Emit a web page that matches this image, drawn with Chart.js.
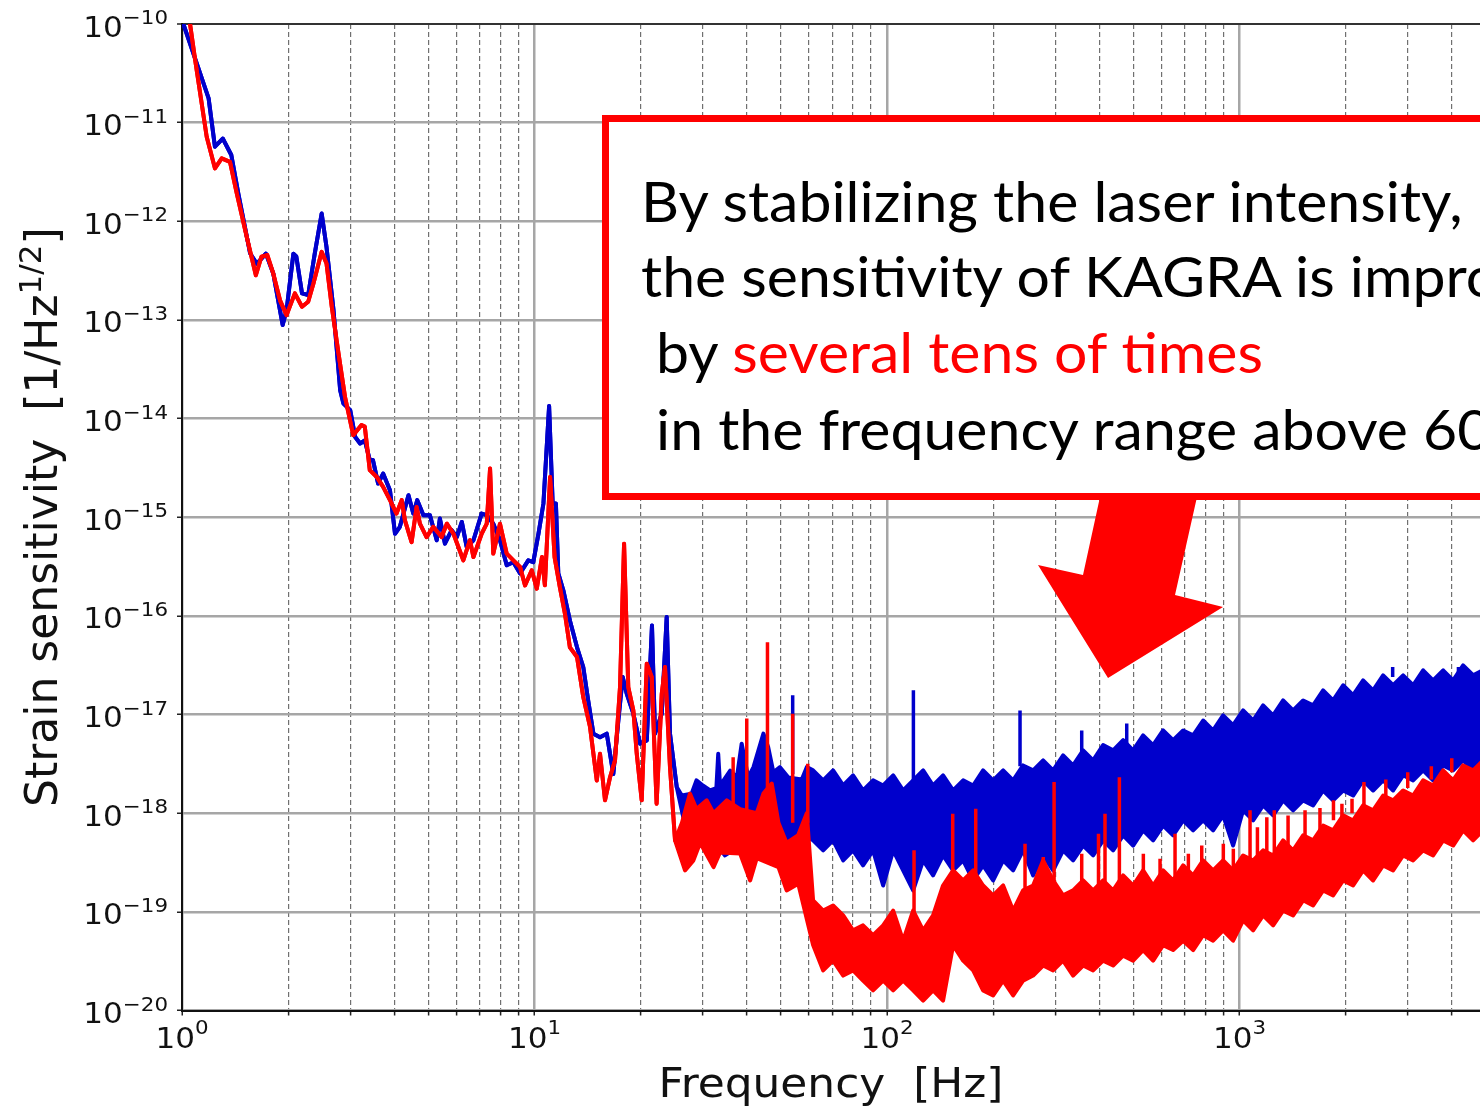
<!DOCTYPE html>
<html>
<head>
<meta charset="utf-8">
<script src="https://cdn.jsdelivr.net/npm/chart.js@4.4.0/dist/chart.umd.min.js"></script>
<style>
  html, body { margin: 0; padding: 0; background: #fff; overflow: hidden; }
  #wrap { position: relative; width: 1480px; height: 1107px; overflow: hidden; }
  #c { position: absolute; left: 0; top: 0; }
  #overlay { position: absolute; left: 0; top: 0; }
</style>
</head>
<body>
<div id="wrap">
  <canvas id="c" width="1480" height="1107"></canvas>
  <svg id="overlay" width="1480" height="1107">
    <rect x="605.5" y="118.5" width="1000" height="378" fill="#fff" stroke="#ff0000" stroke-width="7"/>
    <g font-family="Lato" font-size="56" fill="#000">
      <text transform="translate(641,222) scale(1.053,1)">By stabilizing the laser intensity,</text>
      <text transform="translate(641,297) scale(1.053,1)">the sensitivity of KAGRA is improved</text>
      <text transform="translate(656,373) scale(1.053,1)">by <tspan fill="#ff0000">several tens of times</tspan></text>
      <text transform="translate(656,450) scale(1.053,1)">in the frequency range above 60 Hz</text>
    </g>
    <polygon points="1100,497 1197,497 1175,595 1223,607 1108,678 1038,565 1083,575" fill="#ff0000"/>
  </svg>
</div>
<script>
// axis decades and grid positions
const xDecadeExps = [0, 1, 2, 3];
const yDecadeExps = [-10, -11, -12, -13, -14, -15, -16, -17, -18, -19, -20];
const freqGridTicks = [1, 2, 3, 4, 5, 6, 7, 8, 9, 10, 20, 30, 40, 50, 60, 70, 80, 90,
  100, 200, 300, 400, 500, 600, 700, 800, 900, 1000, 2000, 3000, 4000];
const strainGridTicks = [1e-20, 1e-19, 1e-18, 1e-17, 1e-16, 1e-15, 1e-14, 1e-13, 1e-12, 1e-11, 1e-10];

// blue = before stabilization, red = after. Below ~25 Hz each is a single trace.
const blueLowFreq = [1.0, 1.19, 1.24, 1.305, 1.38, 1.445, 1.56, 1.63, 1.73, 1.815, 1.93, 1.98, 2.07, 2.11,
  2.19, 2.28, 2.38, 2.49, 2.57, 2.69, 2.81, 2.87, 3.0, 3.1, 3.2, 3.3, 3.41, 3.48, 3.6, 3.72, 3.89,
  4.02, 4.15, 4.39, 4.53, 4.65, 4.84, 5.05, 5.28, 5.39, 5.57, 5.82, 6.02, 6.22, 6.42, 6.71, 7.08,
  7.32, 7.64, 7.98, 8.34, 8.71, 9.1, 9.6, 9.92, 10.26, 10.6, 11.0, 11.26, 11.5, 11.68, 12.07, 12.6,
  13.2, 13.75, 14.2, 14.69, 15.34, 16.03, 16.73, 17.29, 17.79, 18.26, 19.07, 19.92, 20.82, 21.54,
  21.97, 22.96, 23.71, 24.23, 25.32];
const blueLowStrain = [1.1e-10, 1.76e-11, 5.7e-12, 6.9e-12, 4.7e-12, 1.9e-12, 4.75e-13, 3.7e-13, 4.7e-13,
  2.96e-13, 8.9e-14, 1.26e-13, 4.7e-13, 4.4e-13, 1.86e-13, 1.79e-13, 4.7e-13, 1.2e-12, 5.5e-13,
  1.26e-13, 1.94e-14, 1.42e-14, 1.22e-14, 6.5e-15, 5.6e-15, 6.0e-15, 3.8e-15, 3.8e-15, 2.2e-15,
  2.77e-15, 1.88e-15, 6.8e-16, 8.0e-16, 1.67e-15, 1.09e-15, 1.49e-15, 1.05e-15, 1.05e-15, 5.85e-16,
  9.7e-16, 5.4e-16, 7.4e-16, 6.3e-16, 8.95e-16, 5.0e-16, 5.85e-16, 1.09e-15, 1.05e-15, 8.6e-16,
  5.85e-16, 3.26e-16, 3.5e-16, 2.7e-16, 3.66e-16, 3.5e-16, 6.8e-16, 1.38e-15, 1.34e-14, 1.38e-15,
  1.38e-15, 2.7e-16, 1.82e-16, 9.0e-17, 4.8e-17, 3.03e-17, 1.39e-17, 6.4e-18, 5.9e-18, 6.4e-18,
  2.5e-18, 8.7e-18, 2.4e-17, 1.63e-17, 1.02e-17, 5.07e-18, 5.47e-18, 8.0e-17, 6.4e-18, 1.02e-17,
  9.75e-17, 6.4e-18, 1.84e-18];
const redLowFreq = [1.05, 1.09, 1.175, 1.24, 1.296, 1.368, 1.43, 1.526, 1.62, 1.68, 1.746, 1.815, 1.897,
  1.98, 2.09, 2.19, 2.28, 2.36, 2.49, 2.57, 2.66, 2.78, 2.9, 3.06, 3.23, 3.3, 3.41, 3.57, 3.72, 3.89,
  4.06, 4.2, 4.29, 4.48, 4.63, 4.73, 4.94, 5.16, 5.45, 5.64, 5.89, 6.28, 6.56, 6.71, 7.08, 7.32, 7.48,
  7.64, 7.98, 8.34, 8.71, 9.1, 9.4, 9.82, 10.15, 10.5, 10.7, 11.07, 11.4, 11.8, 12.2, 12.6, 13.2,
  13.75, 14.37, 15.02, 15.34, 15.85, 16.37, 16.92, 17.48, 17.95, 18.45, 19.07, 19.5, 20.14, 20.82,
  21.5, 22.2, 22.96, 23.45, 24.23, 25.04];
const redLowStrain = [1.1e-10, 4.3e-11, 7.2e-12, 3.44e-12, 4.35e-12, 4.0e-12, 1.92e-12, 6.97e-13, 2.84e-13,
  4.37e-13, 4.54e-13, 2.96e-13, 1.58e-13, 1.12e-13, 1.86e-13, 1.36e-13, 1.53e-13, 2.34e-13, 4.9e-13,
  3.74e-13, 1.36e-13, 4.57e-14, 1.66e-14, 6.8e-15, 8.6e-15, 8.3e-15, 3.0e-15, 2.56e-15, 2.03e-15,
  1.49e-15, 1.09e-15, 1.49e-15, 9.3e-16, 5.6e-16, 1.27e-15, 8.6e-16, 6.3e-16, 8.0e-16, 6.3e-16,
  8.6e-16, 6.8e-16, 3.66e-16, 5.85e-16, 3.95e-16, 6.8e-16, 8.6e-16, 3.12e-15, 4.28e-16, 8.6e-16,
  4.28e-16, 3.66e-16, 3.13e-16, 2.04e-16, 2.9e-16, 1.89e-16, 3.95e-16, 2.04e-16, 2.56e-15, 3.95e-16,
  1.96e-16, 1.05e-16, 4.8e-17, 3.83e-17, 1.5e-17, 7.5e-18, 2.15e-18, 4.0e-18, 1.35e-18, 2.3e-18,
  3.43e-18, 1.9e-17, 5.4e-16, 1.9e-17, 1.1e-17, 4.0e-18, 1.35e-18, 3.28e-17, 2.4e-17, 1.25e-18,
  1.63e-17, 3.03e-17, 2.93e-18, 5.3e-19];

// 25-60 Hz: the traces widen into noise bands (upper and lower edges)
const blueMidTopFreq = [26.17, 27.9, 28.8, 30.1, 31.5, 32.8, 33.2, 33.6, 35.9, 37.5, 38.7, 40.4, 41.8,
  44.6, 46.0, 47.6, 49.7, 52.5, 57.3, 59.2];
const blueMidTopStrain = [1.51e-18, 1.58e-18, 2.15e-18, 1.9e-18, 1.7e-18, 1.8e-18, 4.0e-18, 1.9e-18,
  2.7e-18, 2.3e-18, 5.07e-18, 2.3e-18, 2.93e-18, 6.4e-18, 4.7e-18, 2.6e-18, 2.93e-18, 2.3e-18,
  2.2e-18, 2.93e-18];
const blueMidBottomFreq = [26.17, 27.03, 29.5, 32.1, 34.7, 38.3, 40.9, 43.6, 48.1, 53.1, 57.3];
const blueMidBottomStrain = [1.07e-18, 6.2e-19, 4.7e-19, 5.3e-19, 3.73e-19, 4.7e-19, 3.32e-19, 4.2e-19,
  3.73e-19, 3.32e-19, 6.2e-19];
const redMidTopFreq = [26.2, 27.6, 28.8, 30.8, 32.2, 35.1, 38.3, 42.7, 44.6, 47.1, 49.2, 51.9, 56.0, 59.2];
const redMidTopStrain = [8e-19, 1.58e-18, 1.1e-18, 1.35e-18, 1.0e-18, 1.35e-18, 1.1e-18, 1.0e-18,
  1.58e-18, 2.0e-18, 8e-19, 5e-19, 6e-19, 1.0e-18];
const redMidBottomFreq = [26.73, 28.2, 29.5, 32.2, 33.6, 38.3, 40.9, 42.7, 49.2, 51.9, 56.0];
const redMidBottomStrain = [2.63e-19, 3.3e-19, 5e-19, 2.84e-19, 4e-19, 3.9e-19, 2.08e-19, 3.5e-19,
  2.84e-19, 1.65e-19, 1.93e-19];

// above 60 Hz: band edges sampled on one shared frequency grid
const bandFreq = [61.7, 65.9, 70.3, 75.1, 80.1, 85.5, 91.3, 97.5, 104.1, 111.1, 118.6, 126.6, 135.1,
  144.2, 154.0, 164.4, 175.5, 187.3, 200.0, 213.5, 227.9, 243.2, 259.7, 277.2, 295.9, 315.9, 337.2,
  360.0, 384.3, 410.2, 437.9, 467.5, 499.0, 532.7, 568.7, 607.1, 648.0, 691.8, 738.5, 788.3, 841.5,
  898.3, 959.0, 1023.7, 1092.8, 1166.5, 1245.3, 1329.3, 1419.1, 1514.9, 1617.1, 1726.3, 1842.8,
  1967.2, 2100.0, 2241.7, 2393.0, 2554.6, 2727.0, 2911.1, 3107.6, 3317.3, 3541.2, 3780.3, 4035.4,
  4307.8, 4598.6, 4909.0];
const blueBandTop = [2.72e-18, 2.15e-18, 2.72e-18, 1.91e-18, 2.42e-18, 1.70e-18, 2.15e-18, 1.91e-18,
  2.42e-18, 1.70e-18, 2.15e-18, 2.72e-18, 1.91e-18, 2.42e-18, 1.70e-18, 2.15e-18, 1.91e-18, 2.72e-18,
  2.15e-18, 2.72e-18, 2.15e-18, 3.05e-18, 2.72e-18, 3.43e-18, 2.72e-18, 3.86e-18, 3.05e-18, 4.34e-18,
  3.43e-18, 4.9e-18, 4.34e-18, 5.5e-18, 4.34e-18, 6.15e-18, 4.9e-18, 6.9e-18, 5.5e-18, 6.9e-18,
  6.15e-18, 8.7e-18, 6.9e-18, 9.8e-18, 7.8e-18, 1.10e-17, 8.7e-18, 1.24e-17, 9.8e-18, 1.39e-17,
  1.10e-17, 1.39e-17, 1.24e-17, 1.76e-17, 1.39e-17, 1.98e-17, 1.57e-17, 2.22e-17, 1.76e-17, 2.50e-17,
  1.98e-17, 2.50e-17, 1.98e-17, 2.81e-17, 2.22e-17, 2.81e-17, 2.22e-17, 3.15e-17, 2.50e-17, 2.81e-17];
const blueBandBottom = [5.3e-19, 4.2e-19, 5.3e-19, 3.32e-19, 4.2e-19, 2.96e-19, 4.2e-19, 1.85e-19,
  4.2e-19, 2.63e-19, 1.65e-19, 3.32e-19, 2.34e-19, 3.73e-19, 2.63e-19, 3.32e-19, 2.08e-19, 2.96e-19,
  2.08e-19, 3.32e-19, 2.63e-19, 4.2e-19, 2.34e-19, 3.73e-19, 2.63e-19, 4.2e-19, 3.32e-19, 4.7e-19,
  3.73e-19, 5.3e-19, 4.2e-19, 5.96e-19, 4.7e-19, 6.7e-19, 5.3e-19, 7.5e-19, 5.96e-19, 8.45e-19,
  6.7e-19, 8.45e-19, 6.7e-19, 9.5e-19, 4.7e-19, 1.07e-18, 8.45e-19, 1.20e-18, 9.5e-19, 1.35e-18,
  1.07e-18, 1.35e-18, 1.20e-18, 1.70e-18, 1.35e-18, 1.70e-18, 1.51e-18, 2.15e-18, 1.70e-18, 2.15e-18,
  1.70e-18, 2.42e-18, 2.15e-18, 2.72e-18, 2.15e-18, 3.05e-18, 2.72e-18, 3.43e-18, 2.72e-18, 3.43e-18];
const redBandTop = [1.31e-19, 1.03e-19, 1.16e-19, 9.2e-20, 6.5e-20, 7.3e-20, 5.8e-20, 7.3e-20, 1.03e-19,
  5.1e-20, 1.03e-19, 6.5e-20, 9.2e-20, 1.85e-19, 2.63e-19, 2.08e-19, 2.63e-19, 1.85e-19, 1.47e-19,
  1.85e-19, 1.03e-19, 1.65e-19, 1.85e-19, 3.32e-19, 2.08e-19, 1.47e-19, 1.65e-19, 2.08e-19, 1.65e-19,
  2.08e-19, 1.65e-19, 2.34e-19, 1.85e-19, 2.63e-19, 1.85e-19, 2.63e-19, 2.08e-19, 2.96e-19, 2.34e-19,
  3.32e-19, 2.63e-19, 3.32e-19, 2.63e-19, 3.73e-19, 3.32e-19, 4.2e-19, 3.73e-19, 5.3e-19, 4.2e-19,
  5.96e-19, 5.3e-19, 7.5e-19, 6.7e-19, 9.5e-19, 8.45e-19, 1.20e-18, 1.07e-18, 1.51e-18, 1.35e-18,
  1.70e-18, 1.51e-18, 2.15e-18, 1.91e-18, 2.72e-18, 2.15e-18, 3.05e-18, 2.72e-18, 3.43e-18];
const redBandBottom = [4.6e-20, 2.55e-20, 3.2e-20, 2.26e-20, 2.55e-20, 2.01e-20, 1.60e-20, 2.01e-20,
  1.60e-20, 2.01e-20, 1.60e-20, 1.26e-20, 1.60e-20, 1.26e-20, 4.6e-20, 3.2e-20, 2.55e-20, 1.60e-20,
  1.42e-20, 2.01e-20, 1.42e-20, 2.01e-20, 2.26e-20, 2.86e-20, 2.55e-20, 3.2e-20, 2.26e-20, 2.86e-20,
  2.55e-20, 3.2e-20, 2.86e-20, 3.6e-20, 3.2e-20, 4.1e-20, 3.2e-20, 4.6e-20, 4.1e-20, 5.1e-20, 4.1e-20,
  5.8e-20, 5.1e-20, 6.5e-20, 5.1e-20, 8.2e-20, 6.5e-20, 9.2e-20, 7.3e-20, 1.03e-19, 9.2e-20, 1.31e-19,
  1.16e-19, 1.65e-19, 1.47e-19, 2.08e-19, 1.85e-19, 2.63e-19, 2.08e-19, 2.96e-19, 2.63e-19, 3.73e-19,
  3.32e-19, 4.2e-19, 3.73e-19, 5.3e-19, 4.7e-19, 6.7e-19, 5.3e-19, 6.7e-19];

// narrow spectral lines sticking out of the bands: frequency, foot, peak
const redLineFreq = [36.6, 40.0, 45.8, 54.0, 59.6, 119.3, 153.6, 178.5, 246.3, 277.5, 297.8, 356.7, 398,
  415.3, 456.2, 533.5, 595, 656.2, 715.9, 781.2, 899.5, 960.3, 1071, 1124, 1195, 1255, 1373, 1534,
  1691, 1847, 1952, 2085, 2254, 2600, 3000, 3500, 4000];
const redLineFoot = [1.0e-18, 1.0e-18, 1.2e-18, 8e-19, 8e-19, 9e-20, 2.2e-19, 2.0e-19, 1.5e-19, 1.8e-19,
  1.6e-19, 1.6e-19, 1.7e-19, 1.7e-19, 1.8e-19, 1.9e-19, 2e-19, 2.1e-19, 2.2e-19, 2.4e-19, 2.6e-19,
  2.8e-19, 3.2e-19, 3.4e-19, 3.5e-19, 3.8e-19, 4.5e-19, 5.5e-19, 6.5e-19, 8.5e-19, 9e-19, 1.0e-18,
  1.1e-18, 1.4e-18, 1.8e-18, 2.2e-18, 2.6e-18];
const redLinePeak = [3.7e-18, 9.1e-18, 5.4e-17, 1.02e-17, 3.18e-18, 4.2e-19, 9.9e-19, 1.11e-18, 4.9e-19,
  3.59e-19, 2.07e-18, 3.88e-19, 6.2e-19, 9.9e-19, 2.32e-18, 3.88e-19, 3.45e-19, 6.2e-19, 3.88e-19,
  4.7e-19, 4.9e-19, 4.37e-19, 1.07e-18, 7.2e-19, 9.1e-19, 1.07e-18, 9.5e-19, 1.07e-18, 1.13e-18,
  1.35e-18, 1.25e-18, 1.4e-18, 2.07e-18, 2.2e-18, 2.6e-18, 3.0e-18, 3.6e-18];
const blueLineFreq = [54.0, 118.8, 238.4, 356.7, 478.6, 2719, 4178];
const blueLineFoot = [2.5e-18, 2.0e-18, 3.0e-18, 3.9e-18, 5.0e-18, 2.4e-17, 2.6e-17];
const blueLinePeak = [1.57e-17, 1.76e-17, 1.1e-17, 6.9e-18, 8.1e-18, 3.03e-17, 3.03e-17];

const BLUE = '#0000cc';
const RED = '#ff0000';

function toPoints(freqs, values) {
  return freqs.map(function (f, i) { return {x: f, y: values[i]}; });
}

function trace(freqs, values, color, fill) {
  return {
    data: toPoints(freqs, values),
    borderColor: color,
    backgroundColor: color,
    borderWidth: 4,
    borderJoinStyle: 'round',
    borderCapStyle: 'round',
    pointRadius: 0,
    tension: 0,
    fill: fill,
    clip: 0
  };
}

// each line: a vertical segment foot -> peak, separated by null gaps
function lines(freqs, foot, peak, color) {
  const pts = [];
  freqs.forEach(function (f, i) {
    pts.push({x: f, y: foot[i]}, {x: f, y: peak[i]}, {x: f, y: null});
  });
  return {
    data: pts,
    borderColor: color,
    borderWidth: 3.5,
    borderCapStyle: 'butt',
    pointRadius: 0,
    spanGaps: false,
    fill: false,
    clip: 0
  };
}

function supText(e) {
  return e < 0 ? '\u2212' + (-e) : String(e);
}

function drawPower(ctx, exp, x, baseY, supY, align, supSize) {
  const sx = 1.07;
  ctx.font = '29px "DejaVu Sans"';
  const wb = ctx.measureText('10').width;
  ctx.font = supSize + 'px "DejaVu Sans"';
  const sup = supText(exp);
  const ws = ctx.measureText(sup).width;
  const total = (wb + ws) * sx;
  const left = align === 'right' ? x - total : x - total / 2;
  ctx.save();
  ctx.translate(left, 0);
  ctx.scale(sx, 1);
  ctx.font = '29px "DejaVu Sans"';
  ctx.fillText('10', 0, baseY);
  ctx.font = supSize + 'px "DejaVu Sans"';
  ctx.fillText(sup, wb, supY);
  ctx.restore();
}

const axisText = {
  id: 'axisText',
  afterDraw: function (chart) {
    const ctx = chart.ctx;
    const xs = chart.scales.x, ys = chart.scales.y;
    const area = chart.chartArea;
    ctx.save();
    ctx.fillStyle = '#111';
    ctx.textAlign = 'left';
    ctx.textBaseline = 'alphabetic';

    yDecadeExps.forEach(function (e) {
      const py = ys.getPixelForValue(Math.pow(10, e));
      drawPower(ctx, e, 168, py + 12.5, py, 'right', 20);
    });
    xDecadeExps.forEach(function (e) {
      const px = xs.getPixelForValue(Math.pow(10, e));
      drawPower(ctx, e, px, 1048, 1033.5, 'center', 20);
    });

    // x title
    ctx.font = '41px "DejaVu Sans"';
    const xt = 'Frequency  [Hz]';
    const wx = ctx.measureText(xt).width * 1.07;
    ctx.save();
    ctx.translate((area.left + area.right) / 2 - wx / 2, 1097);
    ctx.scale(1.07, 1);
    ctx.fillText(xt, 0, 0);
    ctx.restore();

    // y title
    const main = 'Strain sensitivity  [1/Hz', sup = '1/2', tail = ']';
    ctx.font = '44px "DejaVu Sans"';
    const w1 = ctx.measureText(main).width, w3 = ctx.measureText(tail).width;
    ctx.font = '31px "DejaVu Sans"';
    const w2 = ctx.measureText(sup).width;
    const x0 = -(w1 + w2 + w3) / 2;
    ctx.save();
    ctx.translate(57, (area.top + area.bottom) / 2);
    ctx.rotate(-Math.PI / 2);
    ctx.font = '44px "DejaVu Sans"';
    ctx.fillText(main, x0, 0);
    ctx.fillText(tail, x0 + w1 + w2, 0);
    ctx.font = '31px "DejaVu Sans"';
    ctx.fillText(sup, x0 + w1, -16);
    ctx.restore();

    ctx.restore();
  }
};

function isDecade(v) {
  const l = Math.log10(v);
  return Math.abs(l - Math.round(l)) < 1e-6;
}

const redTop = trace(redLowFreq.concat(redMidTopFreq, bandFreq),
  redLowStrain.concat(redMidTopStrain, redBandTop), RED, '+1');
const redBottom = trace(redLowFreq.concat(redMidBottomFreq, bandFreq),
  redLowStrain.concat(redMidBottomStrain, redBandBottom), RED, false);
const blueTop = trace(blueLowFreq.concat(blueMidTopFreq, bandFreq),
  blueLowStrain.concat(blueMidTopStrain, blueBandTop), BLUE, '+1');
const blueBottom = trace(blueLowFreq.concat(blueMidBottomFreq, bandFreq),
  blueLowStrain.concat(blueMidBottomStrain, blueBandBottom), BLUE, false);

new Chart(document.getElementById('c'), {
  type: 'line',
  data: {
    datasets: [
      lines(redLineFreq, redLineFoot, redLinePeak, RED),
      redTop,
      redBottom,
      lines(blueLineFreq, blueLineFoot, blueLinePeak, BLUE),
      blueTop,
      blueBottom
    ]
  },
  options: {
    responsive: false,
    animation: false,
    devicePixelRatio: 1,
    layout: {padding: {top: 24, left: 0, right: 0, bottom: 0}},
    plugins: {legend: {display: false}, tooltip: {enabled: false}},
    scales: {
      x: {
        type: 'logarithmic',
        min: 1,
        max: 4810,
        afterBuildTicks: function (scale) {
          scale.ticks = freqGridTicks.map(function (v) { return {value: v}; });
        },
        afterFit: function (scale) { scale.height = 96.5; },
        ticks: {display: false},
        grid: {
          color: function (c) { return isDecade(c.tick.value) ? '#a6a6a6' : '#707070'; },
          lineWidth: function (c) { return isDecade(c.tick.value) ? 2.5 : 1.2; },
          tickColor: '#222',
          tickLength: 5,
          tickWidth: 1.5
        },
        border: {
          display: true,
          color: '#111',
          width: 2,
          dash: function (c) { return (c.tick && !isDecade(c.tick.value)) ? [5, 3] : []; }
        }
      },
      y: {
        type: 'logarithmic',
        min: 1e-20,
        max: 1e-10,
        afterBuildTicks: function (scale) {
          scale.ticks = strainGridTicks.map(function (v) { return {value: v}; });
        },
        afterFit: function (scale) { scale.width = 182; },
        ticks: {display: false},
        grid: {
          color: function (c) { return c.tick.value === 1e-10 ? '#333' : '#a6a6a6'; },
          lineWidth: function (c) { return c.tick.value === 1e-10 ? 2 : 2.5; },
          tickColor: '#222',
          tickLength: 5,
          tickWidth: 1.5
        },
        border: {display: true, color: '#111', width: 2}
      }
    }
  },
  plugins: [axisText]
});
</script>
</body>
</html>
